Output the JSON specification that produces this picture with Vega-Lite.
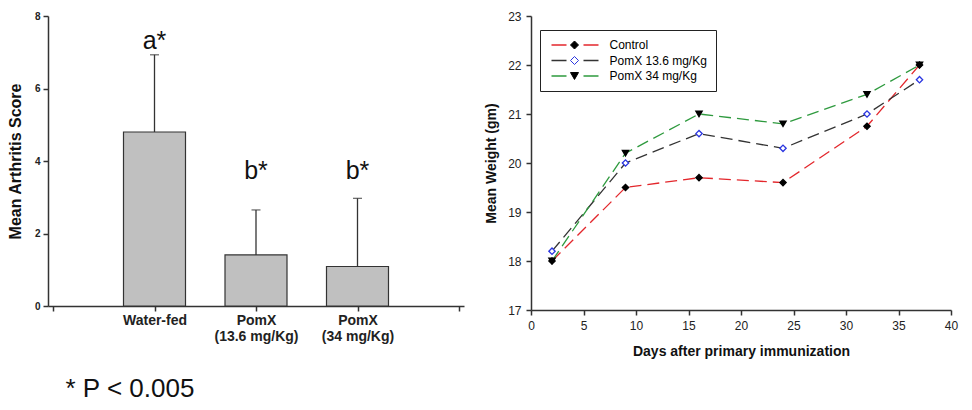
{
  "$schema": "https://vega.github.io/schema/vega-lite/v6.json",
  "background": "white",
  "padding": {"left": 7, "top": 10, "right": 5, "bottom": 0},
  "spacing": 20,
  "config": {
    "view": {"stroke": null},
    "font": "Liberation Sans",
    "axis": {
      "grid": false,
      "domainColor": "#333333",
      "tickColor": "#333333",
      "domainWidth": 1.5,
      "tickWidth": 1.5,
      "labelColor": "#222222",
      "titleColor": "#111111",
      "labelFont": "Liberation Sans",
      "titleFont": "Liberation Sans"
    },
    "legend": {"labelFont": "Liberation Sans"}
  },
  "hconcat": [
    {
      "width": 416,
      "height": 290,
      "data": {
        "values": [
          {"group": "Water-fed", "order": 1, "mean": 4.8, "upper": 6.93, "sig": "a*", "sig_y": 7.08},
          {"group": "PomX (13.6 mg/Kg)", "order": 2, "mean": 1.41, "upper": 2.65, "sig": "b*", "sig_y": 3.49},
          {"group": "PomX (34 mg/Kg)", "order": 3, "mean": 1.09, "upper": 2.97, "sig": "b*", "sig_y": 3.49}
        ]
      },
      "encoding": {
        "x": {
          "field": "order",
          "type": "quantitative",
          "scale": {"domain": [0, 4], "nice": false, "zero": false},
          "axis": {
            "values": [0, 1, 2, 3, 4],
            "title": "* P < 0.005",
            "labelExpr": "datum.value == 1 ? 'Water-fed' : datum.value == 2 ? ['PomX', '(13.6 mg/Kg)'] : datum.value == 3 ? ['PomX', '(34 mg/Kg)'] : ''",
            "labelFontSize": 14,
            "labelFontWeight": "bold",
            "labelLineHeight": 16,
            "labelPadding": 2,
            "labelFlush": false,
            "labelOverlap": false,
            "tickSize": 5,
            "titleX": 17,
            "titleY": 90,
            "titleAlign": "left",
            "titleBaseline": "alphabetic",
            "titleFontSize": 26,
            "titleFontWeight": "normal",
            "titleColor": "#111111"
          }
        }
      },
      "layer": [
        {
          "mark": {"type": "bar", "size": 62, "fill": "#c0c0c0", "stroke": "#333333", "strokeWidth": 1.2},
          "encoding": {
            "y": {
              "field": "mean",
              "type": "quantitative",
              "scale": {"domain": [0, 8], "nice": false},
              "axis": {
                "values": [0, 2, 4, 6, 8],
                "title": "Mean Arthritis Score",
                "titleFontSize": 16,
                "titleFontWeight": "bold",
                "titlePadding": 11,
                "labelFontSize": 10,
                "labelFontWeight": "bold",
                "labelPadding": 3,
                "tickSize": 5
              }
            }
          }
        },
        {
          "mark": {"type": "rule", "color": "#333333", "strokeWidth": 1.3},
          "encoding": {
            "y": {"field": "mean", "type": "quantitative", "title": "Mean Arthritis Score"},
            "y2": {"field": "upper"}
          }
        },
        {
          "mark": {"type": "tick", "orient": "horizontal", "size": 9, "thickness": 1.3, "color": "#333333"},
          "encoding": {
            "y": {"field": "upper", "type": "quantitative", "title": "Mean Arthritis Score"}
          }
        },
        {
          "mark": {"type": "text", "fontSize": 25, "align": "center", "baseline": "alphabetic", "color": "#111111", "font": "Liberation Sans"},
          "encoding": {
            "y": {"field": "sig_y", "type": "quantitative", "title": "Mean Arthritis Score"},
            "text": {"field": "sig"}
          }
        }
      ]
    },
    {
      "width": 420,
      "height": 294,
      "data": {
        "values": [
          {"series": "Control", "day": 2, "weight": 18.0},
          {"series": "Control", "day": 9, "weight": 19.5},
          {"series": "Control", "day": 16, "weight": 19.7},
          {"series": "Control", "day": 24, "weight": 19.6},
          {"series": "Control", "day": 32, "weight": 20.75},
          {"series": "Control", "day": 37, "weight": 22.0},
          {"series": "PomX 13.6 mg/Kg", "day": 2, "weight": 18.2},
          {"series": "PomX 13.6 mg/Kg", "day": 9, "weight": 20.0},
          {"series": "PomX 13.6 mg/Kg", "day": 16, "weight": 20.6},
          {"series": "PomX 13.6 mg/Kg", "day": 24, "weight": 20.3},
          {"series": "PomX 13.6 mg/Kg", "day": 32, "weight": 21.0},
          {"series": "PomX 13.6 mg/Kg", "day": 37, "weight": 21.7},
          {"series": "PomX 34 mg/Kg", "day": 2, "weight": 18.0},
          {"series": "PomX 34 mg/Kg", "day": 9, "weight": 20.2},
          {"series": "PomX 34 mg/Kg", "day": 16, "weight": 21.0},
          {"series": "PomX 34 mg/Kg", "day": 24, "weight": 20.8},
          {"series": "PomX 34 mg/Kg", "day": 32, "weight": 21.4},
          {"series": "PomX 34 mg/Kg", "day": 37, "weight": 22.0}
        ]
      },
      "encoding": {
        "x": {
          "field": "day",
          "type": "quantitative",
          "scale": {"domain": [0, 40], "nice": false},
          "axis": {
            "values": [0, 5, 10, 15, 20, 25, 30, 35, 40],
            "title": "Days after primary immunization",
            "titleFontSize": 14,
            "titleFontWeight": "bold",
            "titlePadding": 13,
            "labelFontSize": 12,
            "labelPadding": 5,
            "labelFlush": false,
            "tickSize": 5
          }
        },
        "y": {
          "field": "weight",
          "type": "quantitative",
          "scale": {"domain": [17, 23], "nice": false, "zero": false},
          "axis": {
            "values": [17, 18, 19, 20, 21, 22, 23],
            "title": "Mean Weight (gm)",
            "titleFontSize": 14,
            "titleFontWeight": "bold",
            "titlePadding": 9,
            "labelFontSize": 12,
            "labelPadding": 5,
            "tickSize": 5
          }
        }
      },
      "layer": [
        {
          "mark": {"type": "line", "strokeDash": [12, 6], "strokeWidth": 1.3},
          "encoding": {
            "color": {
              "field": "series",
              "type": "nominal",
              "scale": {
                "range": ["#e3272c", "#333333", "#2e9a3e"]
              },
              "legend": {
                "orient": "none",
                "legendX": 492,
                "legendY": 14,
                "title": null,
                "symbolType": "M-8,0H8",
                "symbolSize": 36,
                "symbolStrokeWidth": 1.3,
                "symbolDash": [15, 17],
                "symbolOffset": 20.5,
                "labelFontSize": 12,
                "labelOffset": 28,
                "rowPadding": 3.5,
                "padding": 9,
                "strokeColor": "#222222",
                "fillColor": "white"
              }
            }
          }
        },
        {
          "mark": {"type": "point", "filled": true, "opacity": 1, "size": 40, "strokeWidth": 1.3},
          "encoding": {
            "shape": {
              "field": "series",
              "type": "nominal",
              "scale": {
                "domain": ["Control", "PomX 13.6 mg/Kg", "PomX 34 mg/Kg"],
                "range": ["diamond", "diamond", "triangle-down"]
              },
              "legend": {
                "orient": "none",
                "legendX": 492,
                "legendY": 14,
                "title": null,
                "symbolSize": 64,
                "symbolStrokeWidth": 1,
                "symbolOffset": 19.5,
                "labelFontSize": 12,
                "labelOpacity": 0,
                "labelExpr": "' '",
                "rowPadding": 3.5,
                "padding": 9
              }
            },
            "fill": {
              "field": "series",
              "type": "nominal",
              "scale": {
                "domain": ["Control", "PomX 13.6 mg/Kg", "PomX 34 mg/Kg"],
                "range": ["#000000", "#ffffff", "#000000"]
              },
              "legend": {
                "orient": "none",
                "legendX": 492,
                "legendY": 14,
                "title": null,
                "symbolSize": 64,
                "symbolStrokeWidth": 1,
                "symbolOffset": 19.5,
                "labelFontSize": 12,
                "labelOpacity": 0,
                "labelExpr": "' '",
                "rowPadding": 3.5,
                "padding": 9
              }
            },
            "stroke": {
              "field": "series",
              "type": "nominal",
              "scale": {
                "domain": ["Control", "PomX 13.6 mg/Kg", "PomX 34 mg/Kg"],
                "range": ["#000000", "#2a35e0", "#000000"]
              },
              "legend": {
                "orient": "none",
                "legendX": 492,
                "legendY": 14,
                "title": null,
                "symbolSize": 64,
                "symbolStrokeWidth": 1,
                "symbolOffset": 19.5,
                "labelFontSize": 12,
                "labelOpacity": 0,
                "labelExpr": "' '",
                "rowPadding": 3.5,
                "padding": 9
              }
            }
          }
        }
      ]
    }
  ]
}
